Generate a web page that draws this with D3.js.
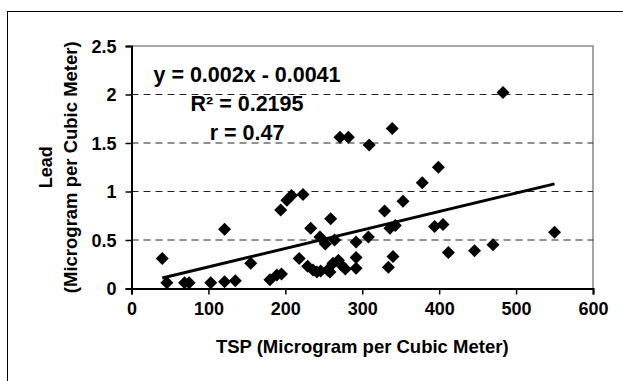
<!DOCTYPE html>
<meta charset="UTF-8">
<head>
<script src="https://d3js.org/d3.v7.min.js"></script>
</head>
<style>
body { margin: 0; background: #fff; }
svg text { font-family: "Liberation Sans", Arial, sans-serif; font-weight: bold; fill: #000; }
</style>
<body>
<div id="chart"></div>
<script>

// TSP vs lead
var tsp  = [40, 46, 69, 75, 103, 121, 135, 121, 155, 180, 189, 195, 194, 202, 208, 223, 233, 259,
            218, 229, 236, 241, 246, 245, 252, 255, 258, 264, 262, 269, 273, 278, 292, 292, 292,
            308, 329, 353, 378, 399, 336, 343, 340, 334, 394, 405, 412, 446, 470, 550,
            271, 282, 309, 339, 483];
var lead = [0.31, 0.06, 0.06, 0.06, 0.06, 0.07, 0.08, 0.61, 0.26, 0.09, 0.14, 0.15, 0.81, 0.91, 0.96, 0.97, 0.62, 0.72,
            0.31, 0.23, 0.19, 0.17, 0.18, 0.53, 0.46, 0.19, 0.17, 0.50, 0.26, 0.29, 0.24, 0.20, 0.48, 0.32, 0.21,
            0.53, 0.80, 0.90, 1.09, 1.25, 0.62, 0.65, 0.33, 0.22, 0.64, 0.66, 0.37, 0.39, 0.45, 0.58,
            1.56, 1.56, 1.48, 1.65, 2.02];

var xTicks = [0, 100, 200, 300, 400, 500, 600];
var yTicks = [0, 0.5, 1, 1.5, 2, 2.5];
var gridVals = [0.5, 1, 1.5, 2];
var eqLines = ["y = 0.002x - 0.0041", "R\u00B2 = 0.2195", "r = 0.47"];

var width = 623, height = 381;

var svg = d3.select("#chart").append("svg")
    .attr("width", width)
    .attr("height", height);

// outer chart border (only left/top show in the picture)
svg.append("rect")
    .attr("x", 7.5).attr("y", 11.5)
    .attr("width", 700).attr("height", 500)
    .attr("fill", "none").attr("stroke", "#000").attr("stroke-width", 1);

var x = d3.scaleLinear().domain([0, 600]).range([131.5, 593]);
var y = d3.scaleLinear().domain([0, 2.5]).range([288.5, 46]);

// plot frame: grey top/right
svg.append("path")
    .attr("d", "M" + x(0) + "," + y(2.5) + "H" + x(600) + "V" + y(0))
    .attr("fill", "none").attr("stroke", "#888").attr("stroke-width", 1.5);

// dashed gridlines
svg.selectAll("line.grid")
  .data(gridVals)
  .enter().append("line")
    .attr("class", "grid")
    .attr("x1", x(0)).attr("x2", x(600))
    .attr("y1", function(d) { return y(d); })
    .attr("y2", function(d) { return y(d); })
    .attr("stroke", "#222").attr("stroke-width", 1)
    .attr("stroke-dasharray", "7,5");

// axes
var xAxis = svg.append("g")
    .attr("transform", "translate(0," + y(0) + ")")
    .call(d3.axisBottom(x).tickValues(xTicks).tickSize(6).tickPadding(8).tickFormat(d3.format("d")));
var yAxis = svg.append("g")
    .attr("transform", "translate(" + x(0) + ",0)")
    .call(d3.axisLeft(y).tickValues(yTicks).tickSize(6).tickPadding(9).tickFormat(function(d) { return d; }));

[xAxis, yAxis].forEach(function(a) {
  a.select(".domain").attr("stroke", "#000").attr("stroke-width", 2);
  a.selectAll(".tick line").attr("stroke", "#000").attr("stroke-width", 1.5);
  a.selectAll(".tick text").attr("font-size", 18)
    .style("font-family", '"Liberation Sans", Arial, sans-serif').style("font-weight", "bold").attr("fill", "#000");
});
yAxis.selectAll(".tick text").attr("dy", "0.36em");

// regression line, least squares over the data
var mx = d3.mean(tsp), my = d3.mean(lead);
var sxy = d3.sum(tsp, function(v, i) { return (v - mx) * (lead[i] - my); });
var sxx = d3.sum(tsp, function(v) { return (v - mx) * (v - mx); });
var slope = sxy / sxx, icpt = my - slope * mx;
var xmin = d3.min(tsp), xmax = d3.max(tsp);

svg.append("line")
    .attr("x1", x(xmin)).attr("y1", y(slope * xmin + icpt))
    .attr("x2", x(xmax)).attr("y2", y(slope * xmax + icpt))
    .attr("stroke", "#000").attr("stroke-width", 3);

// diamond markers
var diamond = "M0,-6.5L6.5,0L0,6.5L-6.5,0Z";
svg.selectAll("path.pt")
  .data(tsp)
  .enter().append("path")
    .attr("class", "pt")
    .attr("d", diamond)
    .attr("transform", function(d, i) { return "translate(" + x(d) + "," + y(lead[i]) + ")"; })
    .attr("fill", "#000");

// equation block
svg.selectAll("text.eq")
  .data(eqLines)
  .enter().append("text")
    .attr("class", "eq")
    .attr("x", 247)
    .attr("y", function(d, i) { return 82 + i * 29; })
    .attr("text-anchor", "middle")
    .attr("font-size", 21.5)
    .text(function(d) { return d; });

// axis titles
svg.append("text")
    .attr("x", (x(0) + x(600)) / 2).attr("y", 353)
    .attr("text-anchor", "middle")
    .attr("font-size", 18.5)
    .text("TSP (Microgram per Cubic Meter)");

var yt = svg.append("g").attr("transform", "translate(0," + ((y(0) + y(2.5)) / 2) + ") rotate(-90)");
yt.append("text").attr("x", 0).attr("y", 52).attr("text-anchor", "middle").attr("font-size", 18).text("Lead");
yt.append("text").attr("x", 0).attr("y", 77).attr("text-anchor", "middle").attr("font-size", 18.5).text("(Microgram per Cubic Meter)");

</script>
</body>
